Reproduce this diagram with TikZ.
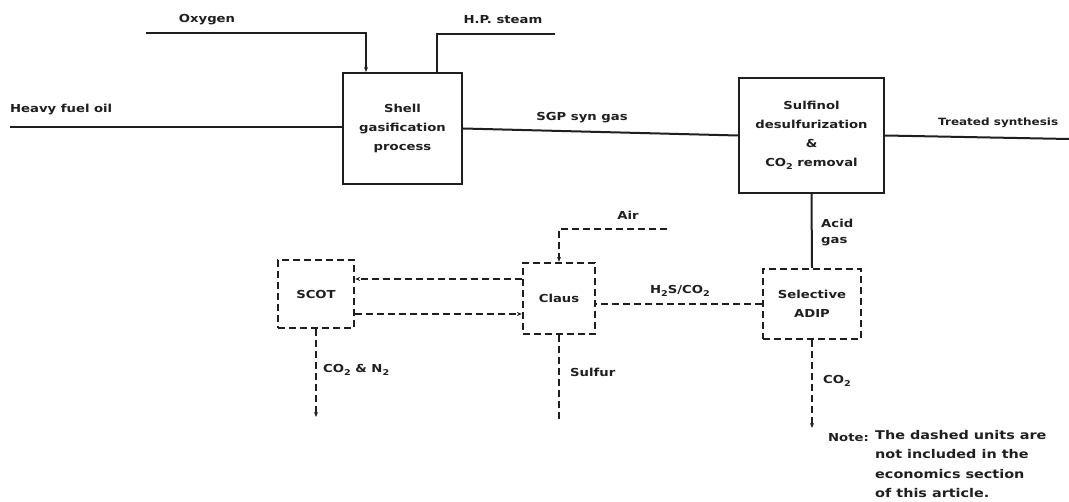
\documentclass[tikz,border=0pt]{standalone}
\usepackage{fontspec}
\newfontfamily\lbl[FakeStretch=1.2]{DejaVu Sans Bold}
\usetikzlibrary{calc,arrows.meta}
\newcommand\lsub[1]{\raisebox{-2.5pt}{\fontsize{8}{8}\selectfont #1}}
\definecolor{ink}{gray}{0.12}
\tikzset{
  txt/.style={font=\lbl\fontsize{11}{13}\selectfont, text=ink, inner sep=0pt},
  unitbox/.style={draw=ink, line width=2pt, align=center, inner sep=0pt, txt, execute at begin node=\setlength{\baselineskip}{19pt}},
  dunitbox/.style={unitbox, dash pattern=on 7pt off 4pt, line width=2.3pt},
  flow/.style={draw=ink, line width=2pt},
  dflow/.style={draw=ink, line width=2.3pt, dash pattern=on 7pt off 4pt},
  tip/.style={-{Stealth[length=5pt,width=4pt]}}
}
\begin{document}
\begin{tikzpicture}[x=1pt,y=-1pt]
\useasboundingbox (0,0) rectangle (1069,502);
\fill[white] (0,0) rectangle (1069,502);

% units
\node[unitbox, minimum width=119pt, minimum height=111pt] (shell) at (402.5,128.5) {Shell\\gasification\\process};
\node[unitbox, minimum width=145pt, minimum height=115pt] (sulf) at (811.5,135.5) {Sulfinol\\desulfurization\\\&\\CO\lsub{2} removal};
\node[dunitbox, minimum width=76pt, minimum height=68pt] (scot) at (316,294) {SCOT};
\node[dunitbox, minimum width=72pt, minimum height=71pt] (claus) at (559,298.5) {Claus};
\node[dunitbox, minimum width=98pt, minimum height=70pt] (adip) at (812,304) {Selective\\ADIP};

% free ends
\coordinate (hfo) at (10,127);
\coordinate (ox) at (146,33);
\coordinate (hps) at (555,34);
\coordinate (trt) at (1069,139);
\coordinate (air) at (667,229);
\coordinate (co2n2) at (316,417);
\coordinate (sulfur) at (559,420);
\coordinate (co2) at (812,428);

% solid flows
\draw[flow] (hfo) -- (hfo -| shell.west);
\draw[flow, tip] (ox) -| ($(shell.north west)+(24,0)$);
\draw[flow] ($(shell.north west)+(95,0)$) |- (hps);
\draw[flow] (shell.east) -- (sulf.west);
\draw[flow] (sulf.east) -- (trt);
\draw[flow] (sulf.south) -- (adip.north);

% dashed flows
\draw[dflow, tip] (air) -| (claus.north);
\draw[dflow, tip] ([yshift=15pt]scot.east -| claus.west) -- ([yshift=15pt]scot.east);
\draw[dflow, tip] ([yshift=-20pt]scot.east) -- ([yshift=-20pt]scot.east -| claus.west);
\draw[dflow] (adip.west) -- (adip.west -| claus.east);
\draw[dflow, tip] (scot.south) -- (co2n2);
\draw[dflow] (claus.south) -- (sulfur);
\draw[dflow, tip] (adip.south) -- (co2);

% labels
\node[txt, anchor=west] (lhfo) at (10,110) {Heavy fuel oil};
\node[txt] (lox) at (207,20) {Oxygen};
\node[txt] (lhps) at (503,20) {H.P. steam};
\node[txt] (lsgp) at (582,118) {SGP syn gas};
\node[txt, anchor=west, font=\lbl\fontsize{10}{12}\selectfont] (ltrt) at (938,123) {Treated synthesis};
\node[txt] (lair) at (628,215) {Air};
\node[txt, anchor=west, align=left] (lacid) at (821,233) {Acid\\[3pt]gas};
\node[txt] (lh2s) at (680,291) {H\lsub{2}S/CO\lsub{2}};
\node[txt, anchor=west] (lco2n2) at (323,370) {CO\lsub{2} \& N\lsub{2}};
\node[txt, anchor=west] (lsulfur) at (570,372) {Sulfur};
\node[txt, anchor=west] (lco2) at (823,381) {CO\lsub{2}};
\node[txt, anchor=east] (lnote) at (869,438) {Note:};
\node[txt, anchor=north west, align=left, font=\lbl\fontsize{12}{19.5}\selectfont] (lnotetext) at (875,430) {The dashed units are\\not included in the\\economics section\\of this article.};
\end{tikzpicture}
\end{document}
